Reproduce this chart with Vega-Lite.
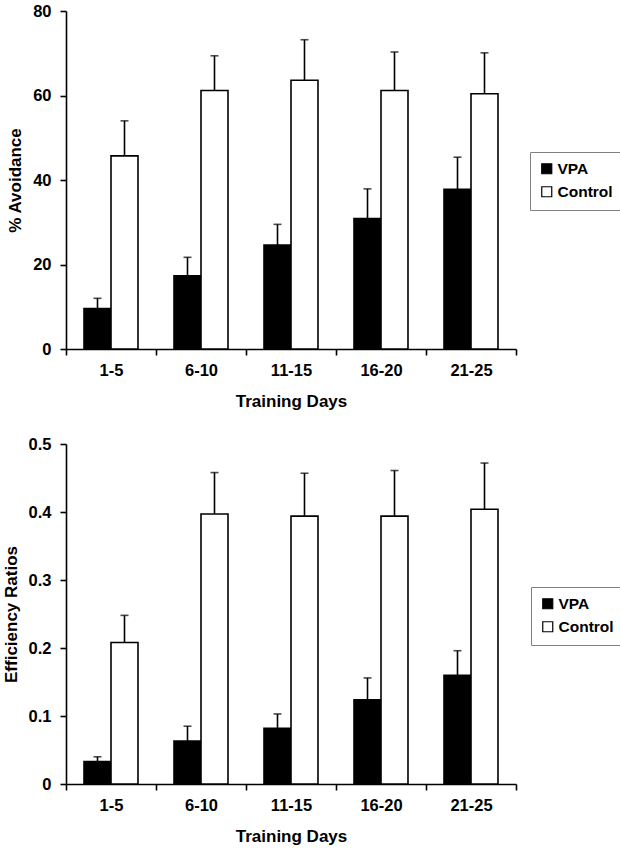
{
  "$schema": "https://vega.github.io/schema/vega-lite/v6.json",
  "padding": {"left": 2, "top": 3, "right": 0, "bottom": 0},
  "background": "white",
  "datasets": {
    "avoidance": [
      {"days": "1-5", "group": "VPA", "value": 9.6, "upper": 12.0},
      {"days": "1-5", "group": "Control", "value": 45.7, "upper": 54.0},
      {"days": "6-10", "group": "VPA", "value": 17.3, "upper": 21.7},
      {"days": "6-10", "group": "Control", "value": 61.2, "upper": 69.4},
      {"days": "11-15", "group": "VPA", "value": 24.6, "upper": 29.5},
      {"days": "11-15", "group": "Control", "value": 63.6, "upper": 73.2},
      {"days": "16-20", "group": "VPA", "value": 30.9, "upper": 37.9},
      {"days": "16-20", "group": "Control", "value": 61.2, "upper": 70.3},
      {"days": "21-25", "group": "VPA", "value": 37.8, "upper": 45.4},
      {"days": "21-25", "group": "Control", "value": 60.4, "upper": 70.1}
    ],
    "efficiency": [
      {"days": "1-5", "group": "VPA", "value": 0.033, "upper": 0.040},
      {"days": "1-5", "group": "Control", "value": 0.208, "upper": 0.248},
      {"days": "6-10", "group": "VPA", "value": 0.063, "upper": 0.085},
      {"days": "6-10", "group": "Control", "value": 0.397, "upper": 0.458},
      {"days": "11-15", "group": "VPA", "value": 0.082, "upper": 0.103},
      {"days": "11-15", "group": "Control", "value": 0.394, "upper": 0.457},
      {"days": "16-20", "group": "VPA", "value": 0.124, "upper": 0.156},
      {"days": "16-20", "group": "Control", "value": 0.394, "upper": 0.461},
      {"days": "21-25", "group": "VPA", "value": 0.160, "upper": 0.196},
      {"days": "21-25", "group": "Control", "value": 0.404, "upper": 0.472}
    ]
  },
  "spacing": 26,
  "vconcat": [
    {
      "width": 450,
      "height": 338,
      "data": {"name": "avoidance"},
      "encoding": {
        "x": {
          "field": "days",
          "type": "nominal",
          "sort": null,
          "title": "Training Days",
          "scale": {"paddingInner": 0, "paddingOuter": 0},
          "axis": {"labelAngle": 0, "tickBand": "extent"}
        },
        "xOffset": {"field": "group", "type": "nominal", "sort": ["VPA", "Control"], "scale": {"paddingInner": 0, "paddingOuter": 0.667}}
      },
      "layer": [
        {
          "mark": {"type": "rule", "stroke": "black", "strokeWidth": 1.6},
          "encoding": {
            "y": {"field": "value", "type": "quantitative"},
            "y2": {"field": "upper"}
          }
        },
        {
          "mark": {"type": "tick", "color": "black", "size": 8, "thickness": 1.6},
          "encoding": {
            "y": {"field": "upper", "type": "quantitative"}
          }
        },
        {
          "mark": {"type": "bar", "stroke": "black", "strokeWidth": 1.6},
          "encoding": {
            "y": {
              "field": "value",
              "type": "quantitative",
              "title": "% Avoidance",
              "scale": {"domain": [0, 80]},
              "axis": {"values": [0, 20, 40, 60, 80]}
            },
            "fill": {
              "field": "group",
              "type": "nominal",
              "sort": ["VPA", "Control"],
              "scale": {"domain": ["VPA", "Control"], "range": ["black", "white"]},
              "legend": {"orient": "none", "legendX": 464, "legendY": 141}
            }
          }
        }
      ]
    },
    {
      "width": 450,
      "height": 340,
      "data": {"name": "efficiency"},
      "encoding": {
        "x": {
          "field": "days",
          "type": "nominal",
          "sort": null,
          "title": "Training Days",
          "scale": {"paddingInner": 0, "paddingOuter": 0},
          "axis": {"labelAngle": 0, "tickBand": "extent"}
        },
        "xOffset": {"field": "group", "type": "nominal", "sort": ["VPA", "Control"], "scale": {"paddingInner": 0, "paddingOuter": 0.667}}
      },
      "layer": [
        {
          "mark": {"type": "rule", "stroke": "black", "strokeWidth": 1.6},
          "encoding": {
            "y": {"field": "value", "type": "quantitative"},
            "y2": {"field": "upper"}
          }
        },
        {
          "mark": {"type": "tick", "color": "black", "size": 8, "thickness": 1.6},
          "encoding": {
            "y": {"field": "upper", "type": "quantitative"}
          }
        },
        {
          "mark": {"type": "bar", "stroke": "black", "strokeWidth": 1.6},
          "encoding": {
            "y": {
              "field": "value",
              "type": "quantitative",
              "title": "Efficiency Ratios",
              "scale": {"domain": [0, 0.5]},
              "axis": {"values": [0, 0.1, 0.2, 0.3, 0.4, 0.5], "format": ".1~f"}
            },
            "fill": {
              "field": "group",
              "type": "nominal",
              "sort": ["VPA", "Control"],
              "scale": {"domain": ["VPA", "Control"], "range": ["black", "white"]},
              "legend": {"orient": "none", "legendX": 465, "legendY": 143}
            }
          }
        }
      ]
    }
  ],
  "resolve": {"scale": {"fill": "independent"}, "legend": {"fill": "independent"}},
  "config": {
    "view": {"stroke": null},
    "font": "Liberation Sans",
    "axis": {
      "grid": false,
      "domainColor": "black",
      "domainWidth": 1.6,
      "tickColor": "black",
      "tickWidth": 1.6,
      "tickSize": 6,
      "labelFont": "Liberation Sans",
      "labelFontSize": 16.5,
      "labelFontWeight": "bold",
      "labelColor": "black",
      "titleFont": "Liberation Sans",
      "titleFontSize": 17,
      "titleFontWeight": "bold",
      "titleColor": "black"
    },
    "axisX": {"labelPadding": 7, "titlePadding": 15},
    "axisY": {"labelPadding": 9, "titlePadding": 8},
    "legend": {
      "title": null,
      "strokeColor": "#808080",
      "padding": 9,
      "symbolType": "square",
      "symbolSize": 100,
      "symbolStrokeColor": "black",
      "symbolStrokeWidth": 1.2,
      "labelFont": "Liberation Sans",
      "labelFontSize": 15.5,
      "labelFontWeight": "bold",
      "labelColor": "black",
      "labelOffset": 3,
      "rowPadding": 6
    }
  }
}
